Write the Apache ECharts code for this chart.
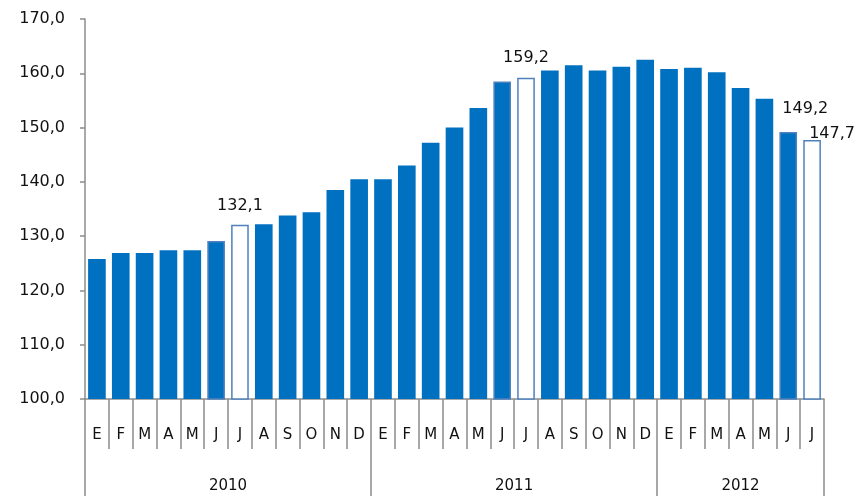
<!DOCTYPE html>
<html>
<head>
<meta charset="utf-8">
<script src="https://cdn.jsdelivr.net/npm/echarts@6/dist/echarts.min.js"></script>
<style>
  html, body { margin: 0; padding: 0; background: #fff; }
  #chart { width: 858px; height: 496px; }
</style>
</head>
<body>
<div id="chart"></div>
<script>
// month initials (Spanish), grouped by year
const months = [
  "E", "F", "M", "A", "M", "J", "J", "A", "S", "O", "N", "D",
  "E", "F", "M", "A", "M", "J", "J", "A", "S", "O", "N", "D",
  "E", "F", "M", "A", "M", "J", "J",
];
const years = ["2010", "2011", "2012"];
const monthsPerYear = [12, 12, 7];
const values = [
  125.8, 126.9, 126.9, 127.4, 127.4, 129.1, 132.1, 132.2, 133.8, 134.4, 138.5, 140.5,
  140.5, 143.0, 147.2, 150.0, 153.6, 158.5, 159.2, 160.5, 161.5, 160.5, 161.2, 162.5,
  160.8, 161.0, 160.2, 157.3, 155.3, 149.2, 147.7,
];
// July bars drawn hollow, June bars with lighter edge
const hollowIdx = [6, 18, 30];
const edgeIdx = [5, 17, 29];
const labelIdx = [6, 18, 29, 30];

const FONT = "DejaVu Sans";
const BLUE = "#0070c0";
const GREY = "#8c8c8c";

const fmt = (v) => v.toFixed(1).replace(".", ",");

// year boundaries / centres on a 0..n scale
const bounds = [0];
monthsPerYear.forEach((n, i) => bounds.push(bounds[i] + n));
const centres = years.map((_, i) => (bounds[i] + bounds[i + 1]) / 2);

const labelPos = {
  6: { position: "top", distance: 11 },
  18: { position: "top", distance: 12 },
  29: { position: "top", distance: 5, offset: [17, -10] },
  30: { position: "top", distance: 5, offset: [20, 7] },
};

const barData = values.map((v, i) => {
  const item = { value: v };
  if (hollowIdx.includes(i)) {
    item.itemStyle = { color: "#ffffff", borderColor: "#4f81bd", borderWidth: 1.5 };
  } else if (edgeIdx.includes(i)) {
    item.itemStyle = { color: BLUE, borderColor: "#4f81bd", borderWidth: 1.5 };
  }
  if (labelIdx.includes(i)) {
    item.label = Object.assign({
      show: true,
      formatter: (p) => fmt(p.value),
      color: "#111",
      fontFamily: FONT,
      fontSize: 16,
    }, labelPos[i]);
  }
  return item;
});

const chart = echarts.init(document.getElementById("chart"), null, { renderer: "canvas" });

const option = {
  animation: false,
  backgroundColor: "#ffffff",
  grid: { left: 85, right: 34, top: 19, bottom: 97, containLabel: false },
  xAxis: [
    {
      type: "category",
      data: months,
      boundaryGap: true,
      axisLine: { show: true, lineStyle: { color: GREY, width: 1.5 } },
      axisTick: { show: true, interval: 0, length: 50, lineStyle: { color: GREY, width: 1.5 } },
      axisLabel: {
        interval: 0,
        margin: 29,
        color: "#111",
        fontFamily: FONT,
        fontSize: 15,
      },
    },
    {
      type: "value",
      position: "bottom",
      min: 0,
      max: bounds[bounds.length - 1],
      axisLine: { show: false },
      splitLine: { show: false },
      axisTick: {
        show: true,
        customValues: bounds,
        length: 97,
        lineStyle: { color: GREY, width: 1.5 },
      },
      axisLabel: {
        customValues: centres,
        margin: 80,
        color: "#111",
        fontFamily: FONT,
        fontSize: 15,
        formatter: (v) => years[centres.indexOf(v)],
      },
    },
  ],
  yAxis: {
    type: "value",
    min: 100,
    max: 170,
    interval: 10,
    axisLine: { show: true, lineStyle: { color: GREY, width: 1.5 } },
    axisTick: { show: true, length: 5, lineStyle: { color: GREY, width: 1.5 } },
    splitLine: { show: false },
    axisLabel: {
      margin: 20,
      color: "#111",
      fontFamily: FONT,
      fontSize: 16,
      formatter: fmt,
    },
  },
  series: [
    {
      type: "bar",
      xAxisIndex: 0,
      data: barData,
      barCategoryGap: "26%",
      itemStyle: { color: BLUE },
    },
  ],
};

chart.setOption(option);
</script>
</body>
</html>
